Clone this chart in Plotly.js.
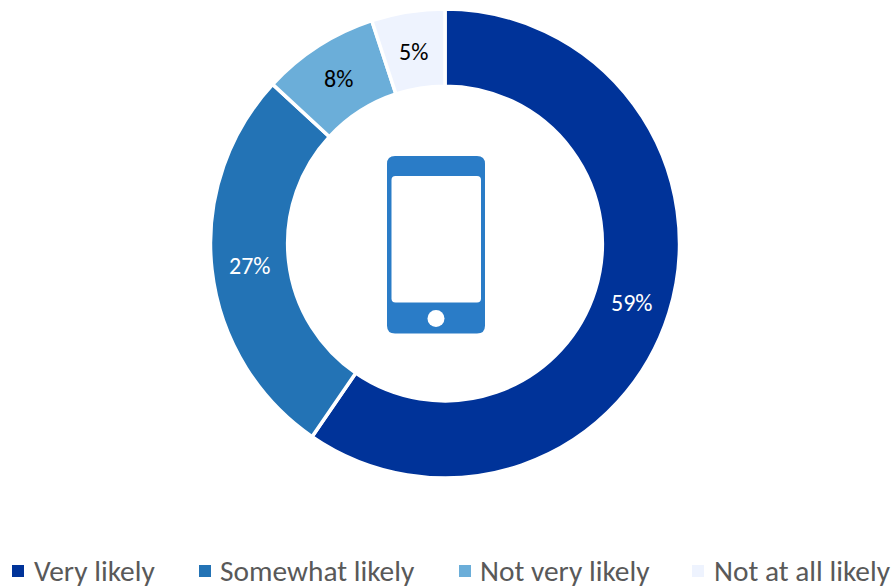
<!DOCTYPE html>
<html><head><meta charset="utf-8">
<script src="https://cdn.plot.ly/plotly-3.0.1.min.js"></script>
<style>html,body{margin:0;padding:0;background:#fff}#c{width:896px;height:588px}</style>
</head><body><div id="c"></div>
<script>
const categories = ["Very likely","Somewhat likely","Not very likely","Not at all likely"];
const values = [59,27,8,5];
const colors = ["#003399","#2373B5","#6BAED9","#EEF3FE"];
const labelColors = ["#ffffff","#ffffff","#000000","#000000"];
const labelX = [631,249,338,413];
const labelY = [302,265,78,51];
const F = "Carlito, Lato, 'Open Sans', sans-serif";
const W=896,H=588,cx=445,cy=243.5,R=234.5;
const data=[{type:"pie",labels:categories,values:values,hole:0.671,sort:false,direction:"clockwise",rotation:0,
 marker:{colors:colors,line:{color:"#fff",width:3.5}},
 textinfo:"none",hoverinfo:"label+percent",
 domain:{x:[(cx-R)/W,(cx+R)/W],y:[1-(cy+R)/H,1-(cy-R)/H]},showlegend:false}];
const xp=v=>v/W, yp=v=>1-v/H;
function roundRect(x0,y0,x1,y1,r){
  const X=xp,Y=yp;
  return `M ${X(x0+r)} ${Y(y0)} L ${X(x1-r)} ${Y(y0)} Q ${X(x1)} ${Y(y0)} ${X(x1)} ${Y(y0+r)} L ${X(x1)} ${Y(y1-r)} Q ${X(x1)} ${Y(y1)} ${X(x1-r)} ${Y(y1)} L ${X(x0+r)} ${Y(y1)} Q ${X(x0)} ${Y(y1)} ${X(x0)} ${Y(y1-r)} L ${X(x0)} ${Y(y0+r)} Q ${X(x0)} ${Y(y0)} ${X(x0+r)} ${Y(y0)} Z`;
}
const shapes=[
 {type:"path",xref:"paper",yref:"paper",path:roundRect(387,156,485,333.5,8),fillcolor:"#2A7CC7",line:{width:0},layer:"above"},
 {type:"path",xref:"paper",yref:"paper",path:roundRect(391.5,176,481,302.5,4),fillcolor:"#fff",line:{width:0},layer:"above"},
 {type:"circle",xref:"paper",yref:"paper",x0:xp(427.5),x1:xp(444.5),y0:yp(310),y1:yp(327),fillcolor:"#fff",line:{width:0},layer:"above"}
];
const legendX=[12,199,459,692], legendTextX=[32,218,478,712];
legendX.forEach((x,i)=>shapes.push({type:"rect",xref:"paper",yref:"paper",x0:xp(x),x1:xp(x+12),y0:yp(565),y1:yp(577),fillcolor:colors[i],line:{width:0}}));
const annotations=categories.map((t,i)=>({xref:"paper",yref:"paper",x:xp(legendTextX[i]),y:yp(571),text:t,showarrow:false,xanchor:"left",yanchor:"middle",font:{family:F,size:29.4,color:"#595959"}}));
values.forEach((v,i)=>annotations.push({xref:"paper",yref:"paper",x:xp(labelX[i]),y:yp(labelY[i]),text:v+"%",showarrow:false,xanchor:"center",yanchor:"middle",font:{family:F,size:24,color:labelColors[i]}}));
Plotly.newPlot("c",data,{width:W,height:H,margin:{l:0,r:0,t:0,b:0},paper_bgcolor:"#fff",shapes:shapes,annotations:annotations,showlegend:false},{displayModeBar:false});
</script></body></html>
